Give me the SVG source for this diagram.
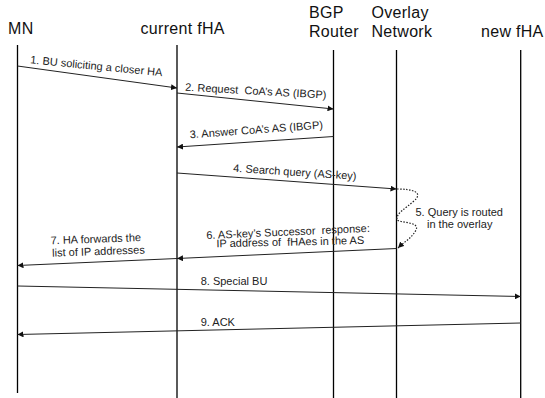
<svg xmlns="http://www.w3.org/2000/svg" width="545" height="398" viewBox="0 0 545 398">
<defs>
<marker id="ah" viewBox="0 0 10 10" refX="10" refY="5" markerWidth="6" markerHeight="6" markerUnits="userSpaceOnUse" orient="auto">
<path d="M0,0 L10,5 L0,10 z" fill="#111"/>
</marker>
</defs>
<style>
.hdr{font-family:"Liberation Sans",Arial,sans-serif;font-size:16px;letter-spacing:0.3px;fill:#111}
.lbl{font-family:"Liberation Sans",Arial,sans-serif;font-size:11px;fill:#222}
.life{stroke:#000;stroke-width:1.3;fill:none}
.msg{stroke:#222;stroke-width:1;fill:none;marker-end:url(#ah)}
.dot{stroke:#222;stroke-width:1.2;fill:none;stroke-dasharray:1.5 1.5;marker-end:url(#ah)}
</style>
<rect width="545" height="398" fill="#fff"/>
<g id="MN">
<text class="hdr" x="8" y="33.5">MN</text>
<line class="life" x1="17.5" y1="45" x2="17.5" y2="393"/>
</g>
<g id="currentfHA">
<text class="hdr" x="140.5" y="33.5">current fHA</text>
<line class="life" x1="177" y1="45" x2="177" y2="398"/>
</g>
<g id="BGPRouter">
<text class="hdr" x="309" y="18">BGP</text>
<text class="hdr" x="309" y="37">Router</text>
<line class="life" x1="333.5" y1="50" x2="333.5" y2="398"/>
</g>
<g id="OverlayNetwork">
<text class="hdr" x="371.5" y="18">Overlay</text>
<text class="hdr" x="371.5" y="37">Network</text>
<line class="life" x1="396.5" y1="50" x2="396.5" y2="398"/>
</g>
<g id="newfHA">
<text class="hdr" x="481" y="37">new fHA</text>
<line class="life" x1="520.7" y1="50" x2="520.7" y2="398"/>
</g>
<g id="connectors">
<line class="msg" x1="17.5" y1="66" x2="177" y2="88"/>
<line class="msg" x1="177" y1="93" x2="333.5" y2="109"/>
<line class="msg" x1="333.5" y1="136.5" x2="177" y2="147"/>
<line class="msg" x1="177" y1="173" x2="396.5" y2="189"/>
<path class="dot" d="M397,189 C412,189 424,192 414,201 C405,209 396,213 397,220 C402,223 420,222 416,230 C412,238 404,242 398,248"/>
<line class="msg" x1="396.5" y1="248.5" x2="177" y2="258.5"/>
<line class="msg" x1="177" y1="258.5" x2="17.5" y2="265.5"/>
<line class="msg" x1="17.5" y1="286" x2="520.7" y2="296.5"/>
<line class="msg" x1="520.7" y1="323" x2="17.5" y2="334.5"/>
</g>
<g id="labels">
<text class="lbl" transform="translate(30,63.3) rotate(5.6)">1. BU soliciting a closer HA</text>
<text class="lbl" transform="translate(185,90.7) rotate(3.2)">2. Request&#160; CoA’s AS (IBGP)</text>
<text class="lbl" transform="translate(190,138.3) rotate(-4.2)">3. Answer CoA’s AS (IBGP)</text>
<text class="lbl" transform="translate(233,171.7) rotate(3.8)">4. Search query (AS-key)</text>
<text class="lbl" x="415.5" y="216">5. Query is routed</text>
<text class="lbl" x="427" y="228.3">in the overlay</text>
<text class="lbl" transform="translate(206.5,239) rotate(-2.5)">6. AS-key’s Successor&#160; response:</text>
<text class="lbl" transform="translate(216.5,247.3) rotate(-1.3)">IP address of&#160; fHAes in the AS</text>
<text class="lbl" transform="translate(50.7,244.3) rotate(-2)">7. HA forwards the</text>
<text class="lbl" transform="translate(52.3,256.7) rotate(-2)">list of IP addresses</text>
<text class="lbl" x="200.7" y="285">8. Special BU</text>
<text class="lbl" x="200.7" y="325.7">9. ACK</text>
</g>
</svg>
